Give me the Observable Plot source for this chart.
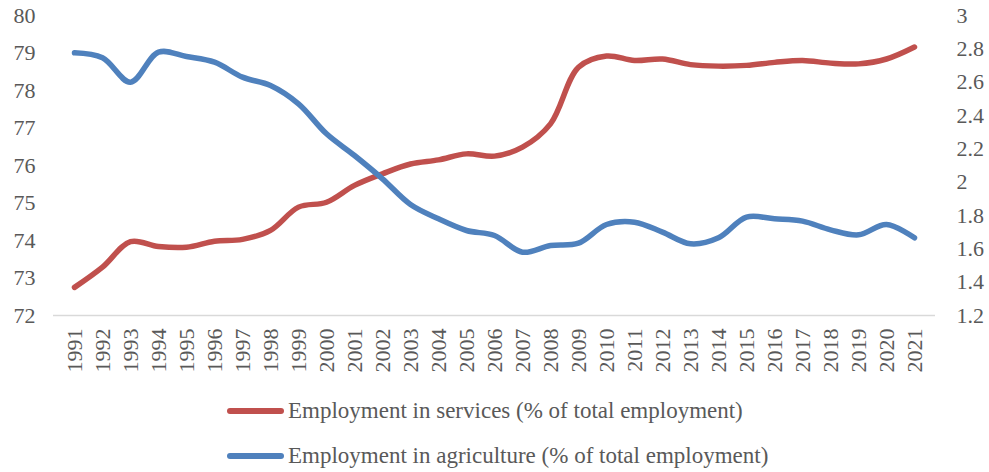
<!DOCTYPE html>
<html><head><meta charset="utf-8">
<script src="https://cdn.jsdelivr.net/npm/d3@7"></script>
<script src="https://cdn.jsdelivr.net/npm/@observablehq/plot@0.6"></script>
<style>
body{margin:0;background:#fff;font-family:"Liberation Serif",serif;}
#chart{position:absolute;left:0;top:0;}
#legend{position:absolute;left:227px;top:388px;color:#595959;font-size:23px;}
.row{display:flex;align-items:center;height:45px;white-space:nowrap}
.sw{width:57px;height:6px;margin-right:4px;border-radius:3px}
</style></head><body><div id="chart"></div><div id="legend"></div>
<script>
const years = ["1991","1992","1993","1994","1995","1996","1997","1998","1999","2000","2001","2002","2003","2004","2005","2006","2007","2008","2009","2010","2011","2012","2013","2014","2015","2016","2017","2018","2019","2020","2021"];
const services = [72.75,73.29,73.97,73.84,73.82,73.98,74.03,74.27,74.89,75.02,75.47,75.78,76.04,76.15,76.31,76.25,76.49,77.11,78.62,78.92,78.80,78.84,78.69,78.65,78.67,78.75,78.80,78.73,78.71,78.84,79.16];
const agriculture = [2.776,2.746,2.60,2.78,2.754,2.72,2.63,2.58,2.47,2.29,2.16,2.02,1.866,1.78,1.71,1.68,1.58,1.62,1.634,1.746,1.76,1.70,1.63,1.666,1.79,1.78,1.766,1.714,1.684,1.746,1.666];
const leftTicks = [72,73,74,75,76,77,78,79,80];
const rightTicks = [1.2,1.4,1.6,1.8,2,2.2,2.4,2.6,2.8,3];
const seriesNames = ["Employment in services (% of total employment)","Employment in agriculture (% of total employment)"];
const colors = ["#C0504D","#4F81BD"];

const toLeft = v => 72 + (v - 1.2) / 1.8 * 8;
const fromLeft = v => 1.2 + (v - 72) / 8 * 1.8;

const data = years.map((y, i) => ({year: y, services: services[i], agri: toLeft(agriculture[i])}));

const chart = Plot.plot({
  width: 989, height: 385,
  marginLeft: 53, marginRight: 54, marginTop: 15, marginBottom: 70,
  x: {type: "point", domain: years, padding: 0.5, label: null},
  y: {domain: [72, 80], label: null},
  style: {fontFamily: "'Liberation Serif', serif", fontSize: "22px", color: "#595959", background: "#fff"},
  marks: [
    Plot.ruleY([72], {stroke: "#d9d9d9", strokeWidth: 1.5}),
    Plot.axisY({anchor: "left", ticks: leftTicks, tickSize: 0, tickPadding: 18, label: null}),
    Plot.axisY({anchor: "right", ticks: rightTicks.map(toLeft), tickFormat: v => String(+fromLeft(v).toFixed(1)), tickSize: 0, tickPadding: 21, label: null}),
    Plot.axisX({tickRotate: -90, tickSize: 0, tickPadding: 13, label: null}),
    Plot.line(data, {x: "year", y: "services", stroke: colors[0], strokeWidth: 5.5, curve: "catmull-rom"}),
    Plot.line(data, {x: "year", y: "agri", stroke: colors[1], strokeWidth: 5.5, curve: "catmull-rom"})
  ]
});
document.getElementById("chart").appendChild(chart);

const lg = document.getElementById("legend");
seriesNames.forEach((n, i) => {
  const r = document.createElement("div"); r.className = "row";
  const s = document.createElement("span"); s.className = "sw"; s.style.background = colors[i];
  const t = document.createElement("span"); t.textContent = n;
  r.appendChild(s); r.appendChild(t); lg.appendChild(r);
});
</script></body></html>
